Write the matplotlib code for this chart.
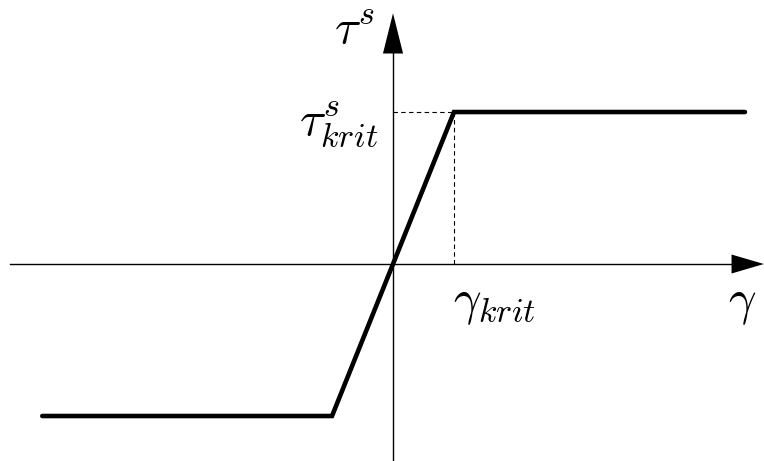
import matplotlib.pyplot as plt

plt.rcParams['mathtext.fontset'] = 'cm'

# Kennlinie: Schubspannung über Gleitung (normiert auf gamma_krit, tau_krit)
gamma_pts = [-5.75, -1.0, 0.0, 1.0, 5.77]
tau_pts = [-1.0, -1.0, 0.0, 1.0, 1.0]
gamma_krit = 1.0
tau_krit = 1.0

fig = plt.figure(figsize=(7.64, 4.61), dpi=100)
ax = fig.add_axes([0, 0, 1, 1])
ax.set_xlim(-6.443, 6.082)
ax.set_ylim(-1.296, 1.737)
ax.axis('off')

# Achsen mit Pfeilspitzen
ax.plot([-6.28, 5.6], [0, 0], color='black', lw=1.0)
ax.plot([0, 0], [-1.3, 1.4], color='black', lw=1.0)
ax.arrow(5.55, 0, 0.53, 0, width=0.0, head_width=0.125, head_length=0.53,
         length_includes_head=True, color='black', lw=0)
ax.arrow(0, 1.385, 0, 0.265, width=0.0, head_width=0.33, head_length=0.265,
         length_includes_head=True, color='black', lw=0)

# Hilfslinien zu den kritischen Werten
ax.plot([0, gamma_krit], [tau_krit, tau_krit], color='black', lw=0.8,
        ls=(0, (4, 3)))
ax.plot([gamma_krit, gamma_krit], [0, tau_krit], color='black', lw=0.8,
        ls=(0, (4, 3)))

ax.plot(gamma_pts, tau_pts, color='black', lw=3.3, solid_capstyle='round',
        solid_joinstyle='miter')

fs = 35
ax.text(-0.3, 1.45, r'$\tau^s$', fontsize=fs, ha='right', va='baseline')
ax.text(-0.25, 0.85, r'$\tau^s_{krit}$', fontsize=fs, ha='right', va='baseline')
ax.text(0.98, -0.33, r'$\gamma_{krit}$', fontsize=fs, ha='left', va='baseline')
ax.text(5.5, -0.33, r'$\gamma$', fontsize=fs, ha='left', va='baseline')

fig.savefig('out.png', dpi=100)
